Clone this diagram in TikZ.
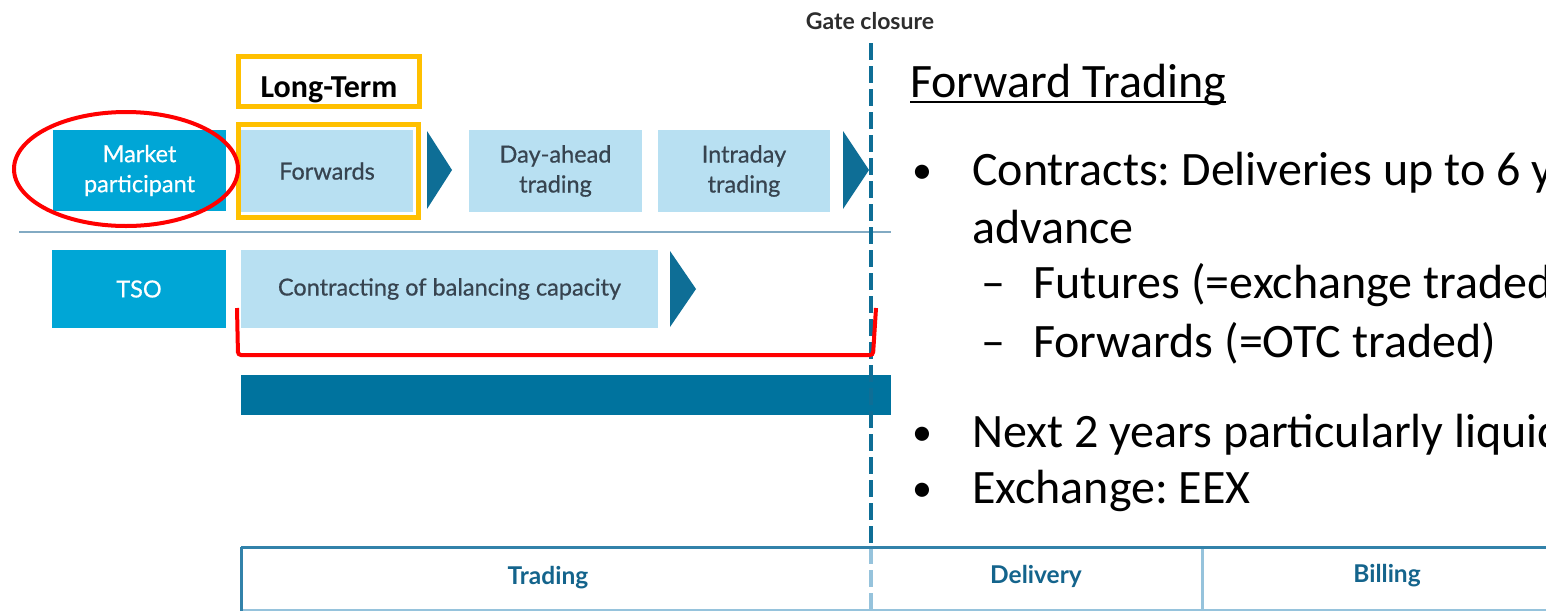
\documentclass[tikz,border=0pt]{standalone}
\usepackage{fontspec}
\setmainfont{Carlito}
\newfontfamily\boxfont[FakeBold=0.6]{Lato}
\newfontfamily\boxfontbold{Lato}
\usetikzlibrary{calc}
\definecolor{mpcyan}{RGB}{0,166,214}
\definecolor{lightbox}{RGB}{184,224,242}
\definecolor{arrowblue}{RGB}{14,110,150}
\definecolor{barblue}{RGB}{0,115,158}
\definecolor{boxtext}{RGB}{55,68,80}
\definecolor{ltyellow}{RGB}{255,192,0}
\definecolor{markred}{RGB}{255,0,0}
\definecolor{gatetext}{RGB}{45,45,45}
\definecolor{tabtext}{RGB}{20,100,140}
\definecolor{tabline}{RGB}{50,130,170}
\definecolor{tablight}{RGB}{150,195,220}
\definecolor{sepline}{RGB}{130,170,195}
\frenchspacing
\begin{document}
\begin{tikzpicture}[x=1pt,y=-1pt,
  cyanbox/.style={fill=mpcyan, draw=none, text=white, font=\boxfont\fontsize{23.5}{30}\selectfont, align=center, inner sep=0pt},
  lightbx/.style={fill=lightbox, draw=none, text=boxtext, font=\boxfont\fontsize{23.5}{30}\selectfont, align=center, inner sep=0pt},
  chevron/.style={fill=arrowblue, draw=none},
  yframe/.style={draw=ltyellow, line width=5pt, inner sep=0pt},
  redmark/.style={draw=markred, line width=4pt},
  gateline/.style={draw=arrowblue, line width=3.5pt, dash pattern=on 17pt off 6pt},
  tablab/.style={text=tabtext, font=\boxfontbold\bfseries\fontsize{24.5}{28}\selectfont},
  paneltext/.style={anchor=base west, inner sep=0pt, font=\fontsize{48}{56}\selectfont},
  bulletmark/.style={anchor=base west, inner sep=0pt, font=\fontsize{40}{48}\selectfont},
]
\useasboundingbox (0,0) rectangle (1546,611);
\clip (0,0) rectangle (1546,611);
\fill[white] (0,0) rectangle (1546,611);

% separator line and bar
\coordinate (sepL) at (19,232);
\coordinate (sepR) at (891,232);
\draw[sepline, line width=2.5pt] (sepL) -- (sepR);
\node[fill=barblue, draw=none, minimum width=650pt, minimum height=40pt, inner sep=0pt] (bar) at (566,395) {};

% top row
\node[cyanbox, minimum width=173pt, minimum height=81pt] (mp) at (139.5,170.5) {Market\\participant};
\node[lightbx, minimum width=172pt, minimum height=82pt] (fw) at (327,171) {Forwards};
\fill[chevron] (427,131) -- (452,170) -- (427,209) -- cycle;
\node[lightbx, minimum width=173pt, minimum height=82pt] (da) at (555.5,171) {Day-ahead\\trading};
\node[lightbx, minimum width=172pt, minimum height=82pt] (id) at (744,171) {Intraday\\trading};
\fill[chevron] (843,131) -- (869,170) -- (843,209) -- cycle;

% TSO row
\node[cyanbox, minimum width=174pt, minimum height=78pt] (tso) at (139,289) {TSO};
\node[lightbx, minimum width=417pt, minimum height=78pt] (cb) at (449.5,289) {Contracting of balancing capacity};
\fill[chevron] (670,251) -- (696,289) -- (670,327) -- cycle;

% gate closure
\node[text=gatetext, font=\boxfontbold\bfseries\fontsize{23}{26}\selectfont, inner sep=0pt] (gc) at (870,21) {Gate closure};
\coordinate (gtop) at (871,43);
\coordinate (gmid) at (871,547);
\coordinate (gbot) at (871,611);
\draw[gateline] (gtop) -- (gmid);
\draw[gateline, draw=tablight] (gmid) -- (gbot);

% bottom table
\coordinate (tl) at (241,547);
\coordinate (tr) at (1546,547);
\coordinate (bl) at (241,611);
\coordinate (dtop) at (1202,547);
\coordinate (dbot) at (1202,611);
\coordinate (bbl) at (241,609.5);
\coordinate (bbr) at (1546,609.5);
\draw[tablight, line width=2pt] (bbl) -- (bbr);
\draw[tabline, line width=3pt] (tl) -- (bl);
\draw[tablight, line width=3pt] (dtop) -- (dbot);
\draw[tabline, line width=3pt] (tl) -- (tr);
\node[tablab] (trd) at (548,578) {Trading};
\node[tablab] (del) at (1036,576) {Delivery};
\node[tablab] (bil) at (1387,576) {Billing};

% Long-Term highlight
\node[yframe, minimum width=181pt, minimum height=50pt] (ltbox) at (329,81.5) {};
\node[anchor=base, inner sep=0pt, font=\bfseries\fontsize{32}{38}\selectfont] (lt) at (329,97) {Long-Term};
\node[yframe, minimum width=180pt, minimum height=93pt] (fwf) at (328.5,171) {};

% red marks
\draw[redmark] (126,169) ellipse [x radius=112pt, y radius=57pt];
\coordinate (rb1) at (237,308);
\coordinate (rb2) at (238,355);
\coordinate (rb3) at (873,355);
\coordinate (rb4) at (876,308);
\draw[redmark, rounded corners=3pt] (rb1) -- (rb2) -- (rb3) -- (rb4);

% right text panel
\node[paneltext] (ft) at (910,97) {Forward Trading};
\draw[line width=2.5pt] ([yshift=-5pt]ft.base west) -- ([yshift=-5pt]ft.base east);
\node[bulletmark] (b1) at (912,183) {•};
\node[paneltext] (t1) at (972,185) {Contracts: Deliveries up to 6 years in};
\node[paneltext] (t1b) at (972,243) {advance};
\node[paneltext] (d1) at (981,298) {–};
\node[paneltext] (t2) at (1033,298) {Futures (=exchange traded)};
\node[paneltext] (d2) at (981,357) {–};
\node[paneltext] (t3) at (1033,357) {Forwards (=OTC traded)};
\node[bulletmark] (b2) at (912,445) {•};
\node[paneltext] (t4) at (972,447) {Next 2 years particularly liquid};
\node[bulletmark] (b3) at (912,501) {•};
\node[paneltext] (t5) at (972,503) {Exchange: EEX};
\end{tikzpicture}
\end{document}
